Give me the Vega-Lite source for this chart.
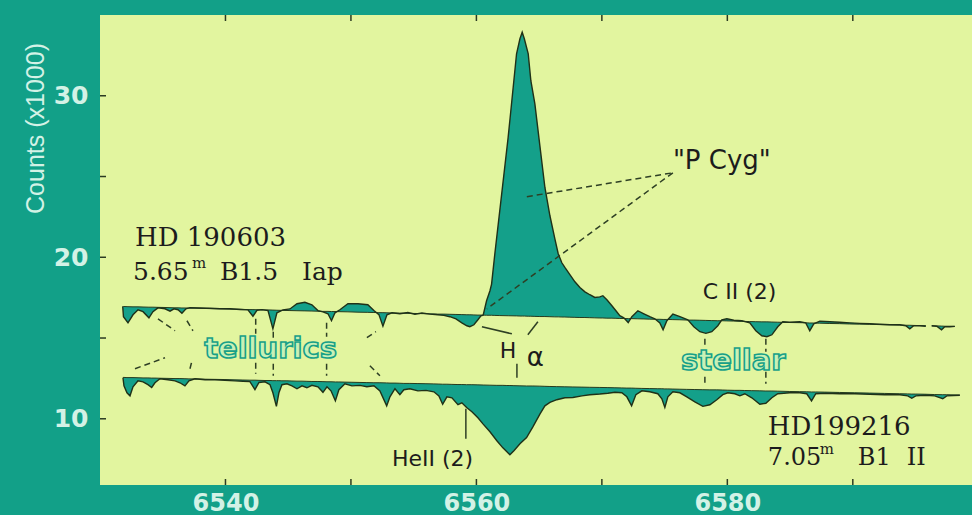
{
  "$schema": "https://vega.github.io/schema/vega-lite/v6.json",
  "width": 872,
  "height": 470,
  "autosize": {"type": "none"},
  "padding": {"left": 100, "top": 15, "right": 0, "bottom": 30},
  "background": "#12a088",
  "config": {"view": {"fill": "#e2f59f", "stroke": null}},
  "resolve": {"axis": {"x": "independent", "y": "independent"}},
  "datasets": {
    "spec": [
      {"seg":"U1","lam":6531.81,"val":16.95,"cont":16.95},
      {"seg":"U1","lam":6531.87,"val":16.32,"cont":16.95},
      {"seg":"U1","lam":6532.23,"val":15.94,"cont":16.94},
      {"seg":"U1","lam":6532.63,"val":16.44,"cont":16.93},
      {"seg":"U1","lam":6533.03,"val":16.75,"cont":16.93},
      {"seg":"U1","lam":6533.43,"val":16.63,"cont":16.92},
      {"seg":"U1","lam":6533.90,"val":16.25,"cont":16.91},
      {"seg":"U1","lam":6534.22,"val":16.63,"cont":16.91},
      {"seg":"U1","lam":6534.62,"val":16.87,"cont":16.90},
      {"seg":"U1","lam":6535.18,"val":16.81,"cont":16.89},
      {"seg":"U1","lam":6535.58,"val":16.66,"cont":16.88},
      {"seg":"U1","lam":6535.90,"val":16.81,"cont":16.87},
      {"seg":"U1","lam":6536.22,"val":16.75,"cont":16.87},
      {"seg":"U1","lam":6536.53,"val":16.53,"cont":16.86},
      {"seg":"U1","lam":6536.85,"val":16.81,"cont":16.86},
      {"seg":"U1","lam":6537.17,"val":16.88,"cont":16.85},
      {"seg":"U1","lam":6537.97,"val":16.86,"cont":16.84},
      {"seg":"U1","lam":6538.76,"val":16.84,"cont":16.82},
      {"seg":"U1","lam":6539.56,"val":16.81,"cont":16.81},
      {"seg":"U1","lam":6540.36,"val":16.81,"cont":16.79},
      {"seg":"U1","lam":6541.16,"val":16.77,"cont":16.78},
      {"seg":"U1","lam":6541.79,"val":16.74,"cont":16.76},
      {"seg":"U1","lam":6542.19,"val":16.35,"cont":16.76},
      {"seg":"U1","lam":6542.51,"val":16.72,"cont":16.75},
      {"seg":"U1","lam":6542.91,"val":16.76,"cont":16.74},
      {"seg":"U1","lam":6543.39,"val":16.70,"cont":16.74},
      {"seg":"U1","lam":6543.78,"val":15.57,"cont":16.73},
      {"seg":"U1","lam":6544.10,"val":16.56,"cont":16.72},
      {"seg":"U1","lam":6544.58,"val":16.74,"cont":16.71},
      {"seg":"U1","lam":6545.14,"val":16.80,"cont":16.70},
      {"seg":"U1","lam":6545.70,"val":17.12,"cont":16.69},
      {"seg":"U1","lam":6546.33,"val":17.21,"cont":16.68},
      {"seg":"U1","lam":6546.89,"val":17.06,"cont":16.67},
      {"seg":"U1","lam":6547.37,"val":16.70,"cont":16.66},
      {"seg":"U1","lam":6547.77,"val":16.62,"cont":16.65},
      {"seg":"U1","lam":6548.17,"val":16.50,"cont":16.65},
      {"seg":"U1","lam":6548.45,"val":16.07,"cont":16.64},
      {"seg":"U1","lam":6548.73,"val":16.56,"cont":16.64},
      {"seg":"U1","lam":6549.12,"val":16.75,"cont":16.63},
      {"seg":"U1","lam":6549.76,"val":17.12,"cont":16.62},
      {"seg":"U1","lam":6550.56,"val":17.12,"cont":16.60},
      {"seg":"U1","lam":6551.35,"val":17.06,"cont":16.59},
      {"seg":"U1","lam":6551.83,"val":16.70,"cont":16.58},
      {"seg":"U1","lam":6552.23,"val":16.45,"cont":16.57},
      {"seg":"U1","lam":6552.55,"val":15.73,"cont":16.57},
      {"seg":"U1","lam":6552.87,"val":16.44,"cont":16.56},
      {"seg":"U1","lam":6553.27,"val":16.56,"cont":16.55},
      {"seg":"U1","lam":6553.90,"val":16.50,"cont":16.54},
      {"seg":"U1","lam":6554.54,"val":16.58,"cont":16.53},
      {"seg":"U1","lam":6555.10,"val":16.47,"cont":16.52},
      {"seg":"U1","lam":6555.66,"val":16.55,"cont":16.51},
      {"seg":"U1","lam":6556.29,"val":16.48,"cont":16.50},
      {"seg":"U1","lam":6556.93,"val":16.44,"cont":16.48},
      {"seg":"U1","lam":6557.41,"val":16.40,"cont":16.48},
      {"seg":"U1","lam":6557.89,"val":16.32,"cont":16.47},
      {"seg":"U1","lam":6558.37,"val":16.19,"cont":16.46},
      {"seg":"U1","lam":6558.84,"val":15.94,"cont":16.45},
      {"seg":"U1","lam":6559.24,"val":15.76,"cont":16.44},
      {"seg":"U1","lam":6559.48,"val":15.70,"cont":16.44},
      {"seg":"U1","lam":6559.80,"val":15.82,"cont":16.43},
      {"seg":"U1","lam":6560.12,"val":16.13,"cont":16.42},
      {"seg":"U1","lam":6560.36,"val":16.38,"cont":16.42},
      {"seg":"U1","lam":6560.54,"val":16.42,"cont":16.42},
      {"seg":"U1","lam":6560.81,"val":17.31,"cont":16.41},
      {"seg":"U1","lam":6561.08,"val":17.93,"cont":16.41},
      {"seg":"U1","lam":6561.21,"val":18.34,"cont":16.41},
      {"seg":"U1","lam":6561.47,"val":20.22,"cont":16.40},
      {"seg":"U1","lam":6561.87,"val":22.93,"cont":16.39},
      {"seg":"U1","lam":6562.53,"val":27.42,"cont":16.38},
      {"seg":"U1","lam":6563.20,"val":32.60,"cont":16.37},
      {"seg":"U1","lam":6563.47,"val":33.53,"cont":16.36},
      {"seg":"U1","lam":6563.65,"val":33.93,"cont":16.36},
      {"seg":"U1","lam":6563.82,"val":33.53,"cont":16.36},
      {"seg":"U1","lam":6564.13,"val":32.60,"cont":16.35},
      {"seg":"U1","lam":6564.34,"val":30.93,"cont":16.35},
      {"seg":"U1","lam":6564.66,"val":29.50,"cont":16.34},
      {"seg":"U1","lam":6565.06,"val":26.90,"cont":16.33},
      {"seg":"U1","lam":6565.46,"val":24.32,"cont":16.33},
      {"seg":"U1","lam":6565.86,"val":22.57,"cont":16.32},
      {"seg":"U1","lam":6566.25,"val":21.15,"cont":16.31},
      {"seg":"U1","lam":6566.52,"val":20.22,"cont":16.31},
      {"seg":"U1","lam":6566.81,"val":19.66,"cont":16.30},
      {"seg":"U1","lam":6567.05,"val":19.37,"cont":16.30},
      {"seg":"U1","lam":6567.45,"val":18.92,"cont":16.29},
      {"seg":"U1","lam":6567.85,"val":18.48,"cont":16.28},
      {"seg":"U1","lam":6568.25,"val":18.13,"cont":16.27},
      {"seg":"U1","lam":6568.65,"val":17.86,"cont":16.27},
      {"seg":"U1","lam":6569.04,"val":17.68,"cont":16.26},
      {"seg":"U1","lam":6569.44,"val":17.51,"cont":16.25},
      {"seg":"U1","lam":6569.84,"val":17.55,"cont":16.24},
      {"seg":"U1","lam":6570.08,"val":17.62,"cont":16.24},
      {"seg":"U1","lam":6570.40,"val":17.37,"cont":16.23},
      {"seg":"U1","lam":6570.80,"val":17.00,"cont":16.23},
      {"seg":"U1","lam":6571.12,"val":16.69,"cont":16.22},
      {"seg":"U1","lam":6571.43,"val":16.38,"cont":16.21},
      {"seg":"U1","lam":6571.75,"val":16.25,"cont":16.21},
      {"seg":"U1","lam":6572.10,"val":15.96,"cont":16.20},
      {"seg":"U1","lam":6572.39,"val":16.32,"cont":16.20},
      {"seg":"U1","lam":6572.87,"val":16.69,"cont":16.19},
      {"seg":"U1","lam":6573.35,"val":16.50,"cont":16.18},
      {"seg":"U1","lam":6573.82,"val":16.32,"cont":16.17},
      {"seg":"U1","lam":6574.22,"val":16.19,"cont":16.16},
      {"seg":"U1","lam":6574.62,"val":15.94,"cont":16.16},
      {"seg":"U1","lam":6574.88,"val":15.51,"cont":16.15},
      {"seg":"U1","lam":6575.18,"val":16.07,"cont":16.15},
      {"seg":"U1","lam":6575.66,"val":16.48,"cont":16.14},
      {"seg":"U1","lam":6576.22,"val":16.32,"cont":16.13},
      {"seg":"U1","lam":6576.85,"val":16.13,"cont":16.11},
      {"seg":"U1","lam":6577.33,"val":15.70,"cont":16.11},
      {"seg":"U1","lam":6577.81,"val":15.39,"cont":16.10},
      {"seg":"U1","lam":6578.29,"val":15.29,"cont":16.09},
      {"seg":"U1","lam":6578.76,"val":15.39,"cont":16.08},
      {"seg":"U1","lam":6579.24,"val":15.76,"cont":16.07},
      {"seg":"U1","lam":6579.56,"val":16.13,"cont":16.07},
      {"seg":"U1","lam":6579.96,"val":16.19,"cont":16.06},
      {"seg":"U1","lam":6580.52,"val":16.10,"cont":16.05},
      {"seg":"U1","lam":6581.16,"val":16.07,"cont":16.03},
      {"seg":"U1","lam":6581.79,"val":15.94,"cont":16.02},
      {"seg":"U1","lam":6582.27,"val":15.45,"cont":16.01},
      {"seg":"U1","lam":6582.75,"val":15.14,"cont":16.00},
      {"seg":"U1","lam":6583.15,"val":15.08,"cont":16.00},
      {"seg":"U1","lam":6583.55,"val":15.20,"cont":15.99},
      {"seg":"U1","lam":6584.02,"val":15.70,"cont":15.98},
      {"seg":"U1","lam":6584.42,"val":16.01,"cont":15.97},
      {"seg":"U1","lam":6584.98,"val":15.98,"cont":15.96},
      {"seg":"U1","lam":6585.78,"val":16.01,"cont":15.95},
      {"seg":"U1","lam":6586.25,"val":15.94,"cont":15.94},
      {"seg":"U1","lam":6586.57,"val":15.45,"cont":15.93},
      {"seg":"U1","lam":6586.89,"val":15.88,"cont":15.93},
      {"seg":"U1","lam":6587.37,"val":16.04,"cont":15.92},
      {"seg":"U1","lam":6588.17,"val":16.01,"cont":15.90},
      {"seg":"U1","lam":6588.96,"val":15.98,"cont":15.89},
      {"seg":"U1","lam":6589.76,"val":15.94,"cont":15.87},
      {"seg":"U1","lam":6590.56,"val":15.91,"cont":15.86},
      {"seg":"U1","lam":6591.35,"val":15.88,"cont":15.85},
      {"seg":"U1","lam":6592.15,"val":15.85,"cont":15.83},
      {"seg":"U1","lam":6592.95,"val":15.82,"cont":15.82},
      {"seg":"U1","lam":6593.75,"val":15.82,"cont":15.80},
      {"seg":"U1","lam":6594.22,"val":15.76,"cont":15.79},
      {"seg":"U1","lam":6594.54,"val":15.57,"cont":15.79},
      {"seg":"U1","lam":6594.86,"val":15.76,"cont":15.78},
      {"seg":"U1","lam":6595.34,"val":15.76,"cont":15.77},
      {"seg":"U1","lam":6595.82,"val":15.73,"cont":15.76},
      {"seg":"U2","lam":6596.29,"val":15.76,"cont":15.75},
      {"seg":"U2","lam":6596.69,"val":15.73,"cont":15.75},
      {"seg":"U2","lam":6597.07,"val":15.51,"cont":15.74},
      {"seg":"U2","lam":6597.33,"val":15.70,"cont":15.73},
      {"seg":"U2","lam":6597.73,"val":15.70,"cont":15.73},
      {"seg":"U2","lam":6598.13,"val":15.72,"cont":15.72},
      {"seg":"L","lam":6531.83,"val":12.54,"cont":12.56},
      {"seg":"L","lam":6531.91,"val":12.04,"cont":12.56},
      {"seg":"L","lam":6532.15,"val":11.61,"cont":12.55},
      {"seg":"L","lam":6532.39,"val":11.42,"cont":12.55},
      {"seg":"L","lam":6532.63,"val":11.98,"cont":12.55},
      {"seg":"L","lam":6533.03,"val":12.35,"cont":12.54},
      {"seg":"L","lam":6533.43,"val":12.29,"cont":12.53},
      {"seg":"L","lam":6533.82,"val":12.11,"cont":12.53},
      {"seg":"L","lam":6534.12,"val":11.94,"cont":12.52},
      {"seg":"L","lam":6534.38,"val":12.23,"cont":12.52},
      {"seg":"L","lam":6534.78,"val":12.48,"cont":12.51},
      {"seg":"L","lam":6535.42,"val":12.42,"cont":12.50},
      {"seg":"L","lam":6535.98,"val":12.35,"cont":12.49},
      {"seg":"L","lam":6536.37,"val":12.23,"cont":12.49},
      {"seg":"L","lam":6536.77,"val":12.04,"cont":12.48},
      {"seg":"L","lam":6537.09,"val":12.35,"cont":12.47},
      {"seg":"L","lam":6537.57,"val":12.48,"cont":12.47},
      {"seg":"L","lam":6538.37,"val":12.42,"cont":12.45},
      {"seg":"L","lam":6539.16,"val":12.42,"cont":12.44},
      {"seg":"L","lam":6539.96,"val":12.38,"cont":12.43},
      {"seg":"L","lam":6540.76,"val":12.35,"cont":12.41},
      {"seg":"L","lam":6541.39,"val":12.32,"cont":12.40},
      {"seg":"L","lam":6541.95,"val":12.30,"cont":12.39},
      {"seg":"L","lam":6542.35,"val":11.80,"cont":12.39},
      {"seg":"L","lam":6542.67,"val":12.25,"cont":12.38},
      {"seg":"L","lam":6543.15,"val":12.29,"cont":12.37},
      {"seg":"L","lam":6543.55,"val":12.11,"cont":12.37},
      {"seg":"L","lam":6543.78,"val":11.61,"cont":12.36},
      {"seg":"L","lam":6544.06,"val":10.77,"cont":12.36},
      {"seg":"L","lam":6544.26,"val":11.61,"cont":12.36},
      {"seg":"L","lam":6544.50,"val":12.11,"cont":12.35},
      {"seg":"L","lam":6544.90,"val":12.17,"cont":12.35},
      {"seg":"L","lam":6545.30,"val":12.04,"cont":12.34},
      {"seg":"L","lam":6545.70,"val":11.86,"cont":12.33},
      {"seg":"L","lam":6546.10,"val":12.04,"cont":12.33},
      {"seg":"L","lam":6546.49,"val":11.92,"cont":12.32},
      {"seg":"L","lam":6546.89,"val":12.07,"cont":12.31},
      {"seg":"L","lam":6547.37,"val":11.98,"cont":12.31},
      {"seg":"L","lam":6547.77,"val":11.64,"cont":12.30},
      {"seg":"L","lam":6548.09,"val":11.98,"cont":12.29},
      {"seg":"L","lam":6548.41,"val":11.73,"cont":12.29},
      {"seg":"L","lam":6548.76,"val":11.11,"cont":12.28},
      {"seg":"L","lam":6549.04,"val":11.80,"cont":12.28},
      {"seg":"L","lam":6549.52,"val":12.17,"cont":12.27},
      {"seg":"L","lam":6550.08,"val":12.04,"cont":12.26},
      {"seg":"L","lam":6550.72,"val":12.07,"cont":12.25},
      {"seg":"L","lam":6551.27,"val":11.98,"cont":12.24},
      {"seg":"L","lam":6551.83,"val":12.04,"cont":12.23},
      {"seg":"L","lam":6552.31,"val":11.73,"cont":12.23},
      {"seg":"L","lam":6552.85,"val":10.80,"cont":12.22},
      {"seg":"L","lam":6553.11,"val":11.36,"cont":12.21},
      {"seg":"L","lam":6553.51,"val":11.86,"cont":12.21},
      {"seg":"L","lam":6553.90,"val":11.49,"cont":12.20},
      {"seg":"L","lam":6554.22,"val":11.80,"cont":12.19},
      {"seg":"L","lam":6554.70,"val":11.86,"cont":12.19},
      {"seg":"L","lam":6555.34,"val":11.73,"cont":12.18},
      {"seg":"L","lam":6555.98,"val":11.76,"cont":12.17},
      {"seg":"L","lam":6556.61,"val":11.67,"cont":12.16},
      {"seg":"L","lam":6557.01,"val":11.42,"cont":12.15},
      {"seg":"L","lam":6557.31,"val":10.90,"cont":12.14},
      {"seg":"L","lam":6557.65,"val":11.36,"cont":12.14},
      {"seg":"L","lam":6558.05,"val":11.30,"cont":12.13},
      {"seg":"L","lam":6558.53,"val":10.87,"cont":12.12},
      {"seg":"L","lam":6558.84,"val":10.99,"cont":12.12},
      {"seg":"L","lam":6559.22,"val":10.70,"cont":12.11},
      {"seg":"L","lam":6559.64,"val":10.43,"cont":12.11},
      {"seg":"L","lam":6560.12,"val":10.06,"cont":12.10},
      {"seg":"L","lam":6560.54,"val":9.67,"cont":12.09},
      {"seg":"L","lam":6561.08,"val":9.20,"cont":12.08},
      {"seg":"L","lam":6561.63,"val":8.64,"cont":12.07},
      {"seg":"L","lam":6562.11,"val":8.20,"cont":12.07},
      {"seg":"L","lam":6562.43,"val":7.96,"cont":12.06},
      {"seg":"L","lam":6562.67,"val":7.77,"cont":12.06},
      {"seg":"L","lam":6562.99,"val":8.02,"cont":12.05},
      {"seg":"L","lam":6563.47,"val":8.45,"cont":12.04},
      {"seg":"L","lam":6564.00,"val":8.84,"cont":12.03},
      {"seg":"L","lam":6564.50,"val":9.50,"cont":12.03},
      {"seg":"L","lam":6565.06,"val":10.29,"cont":12.02},
      {"seg":"L","lam":6565.46,"val":10.80,"cont":12.01},
      {"seg":"L","lam":6565.86,"val":11.01,"cont":12.00},
      {"seg":"L","lam":6566.41,"val":11.18,"cont":11.99},
      {"seg":"L","lam":6567.05,"val":11.30,"cont":11.98},
      {"seg":"L","lam":6567.69,"val":11.32,"cont":11.97},
      {"seg":"L","lam":6568.41,"val":11.42,"cont":11.96},
      {"seg":"L","lam":6569.04,"val":11.49,"cont":11.95},
      {"seg":"L","lam":6569.84,"val":11.53,"cont":11.94},
      {"seg":"L","lam":6570.48,"val":11.58,"cont":11.93},
      {"seg":"L","lam":6571.04,"val":11.64,"cont":11.92},
      {"seg":"L","lam":6571.59,"val":11.61,"cont":11.91},
      {"seg":"L","lam":6571.99,"val":11.36,"cont":11.90},
      {"seg":"L","lam":6572.37,"val":10.80,"cont":11.90},
      {"seg":"L","lam":6572.71,"val":11.49,"cont":11.89},
      {"seg":"L","lam":6573.19,"val":11.73,"cont":11.88},
      {"seg":"L","lam":6573.82,"val":11.67,"cont":11.87},
      {"seg":"L","lam":6574.46,"val":11.55,"cont":11.86},
      {"seg":"L","lam":6574.78,"val":11.24,"cont":11.86},
      {"seg":"L","lam":6575.02,"val":10.70,"cont":11.85},
      {"seg":"L","lam":6575.26,"val":11.36,"cont":11.85},
      {"seg":"L","lam":6575.66,"val":11.67,"cont":11.84},
      {"seg":"L","lam":6576.22,"val":11.61,"cont":11.83},
      {"seg":"L","lam":6576.77,"val":11.36,"cont":11.82},
      {"seg":"L","lam":6577.41,"val":11.05,"cont":11.81},
      {"seg":"L","lam":6578.05,"val":10.77,"cont":11.80},
      {"seg":"L","lam":6578.61,"val":10.87,"cont":11.79},
      {"seg":"L","lam":6579.16,"val":11.18,"cont":11.79},
      {"seg":"L","lam":6579.64,"val":11.49,"cont":11.78},
      {"seg":"L","lam":6580.04,"val":11.61,"cont":11.77},
      {"seg":"L","lam":6580.60,"val":11.55,"cont":11.76},
      {"seg":"L","lam":6581.00,"val":11.42,"cont":11.76},
      {"seg":"L","lam":6581.39,"val":11.55,"cont":11.75},
      {"seg":"L","lam":6581.95,"val":11.30,"cont":11.74},
      {"seg":"L","lam":6582.59,"val":10.90,"cont":11.73},
      {"seg":"L","lam":6583.07,"val":10.96,"cont":11.72},
      {"seg":"L","lam":6583.55,"val":11.30,"cont":11.72},
      {"seg":"L","lam":6584.02,"val":11.55,"cont":11.71},
      {"seg":"L","lam":6584.98,"val":11.61,"cont":11.69},
      {"seg":"L","lam":6585.78,"val":11.61,"cont":11.68},
      {"seg":"L","lam":6586.33,"val":11.55,"cont":11.67},
      {"seg":"L","lam":6586.71,"val":11.11,"cont":11.66},
      {"seg":"L","lam":6587.05,"val":11.55,"cont":11.66},
      {"seg":"L","lam":6587.77,"val":11.58,"cont":11.65},
      {"seg":"L","lam":6588.96,"val":11.55,"cont":11.63},
      {"seg":"L","lam":6590.16,"val":11.55,"cont":11.61},
      {"seg":"L","lam":6591.35,"val":11.52,"cont":11.59},
      {"seg":"L","lam":6592.55,"val":11.49,"cont":11.57},
      {"seg":"L","lam":6593.75,"val":11.49,"cont":11.55},
      {"seg":"L","lam":6594.38,"val":11.42,"cont":11.54},
      {"seg":"L","lam":6594.70,"val":11.27,"cont":11.53},
      {"seg":"L","lam":6595.02,"val":11.42,"cont":11.53},
      {"seg":"L","lam":6595.74,"val":11.46,"cont":11.52},
      {"seg":"L","lam":6596.53,"val":11.42,"cont":11.50},
      {"seg":"L","lam":6597.17,"val":11.24,"cont":11.49},
      {"seg":"L","lam":6597.49,"val":11.42,"cont":11.49},
      {"seg":"L","lam":6598.53,"val":11.46,"cont":11.47}
    ],
    "dashed": [
      {"lam":6564.02,"val":23.75,"lam2":6575.66,"val2":25.23},
      {"lam":6575.66,"val":25.23,"lam2":6560.84,"val2":16.81},
      {"lam":6534.62,"val":16.19,"lam2":6535.98,"val2":15.45},
      {"lam":6536.93,"val":16.07,"lam2":6537.41,"val2":15.45},
      {"lam":6532.79,"val":13.10,"lam2":6535.18,"val2":13.78},
      {"lam":6537.17,"val":13.10,"lam2":6537.33,"val2":13.59},
      {"lam":6542.41,"val":16.19,"lam2":6542.41,"val2":15.26},
      {"lam":6542.41,"val":13.47,"lam2":6542.41,"val2":12.79},
      {"lam":6543.81,"val":15.39,"lam2":6543.81,"val2":14.83},
      {"lam":6543.81,"val":13.41,"lam2":6543.81,"val2":12.66},
      {"lam":6548.06,"val":15.94,"lam2":6548.06,"val2":15.08},
      {"lam":6548.06,"val":13.41,"lam2":6548.06,"val2":12.66},
      {"lam":6551.27,"val":15.02,"lam2":6551.99,"val2":15.39},
      {"lam":6551.51,"val":13.28,"lam2":6552.31,"val2":12.66},
      {"lam":6578.21,"val":14.95,"lam2":6578.21,"val2":14.40},
      {"lam":6578.21,"val":12.60,"lam2":6578.21,"val2":12.04},
      {"lam":6583.07,"val":14.95,"lam2":6583.07,"val2":14.15},
      {"lam":6583.07,"val":12.91,"lam2":6583.07,"val2":12.17}
    ],
    "solid": [
      {"lam":6560.44,"val":15.70,"lam2":6562.83,"val2":15.26},
      {"lam":6564.10,"val":15.20,"lam2":6564.90,"val2":16.01},
      {"lam":6563.23,"val":13.41,"lam2":6563.23,"val2":12.54},
      {"lam":6559.16,"val":10.62,"lam2":6559.16,"val2":8.76}
    ],
    "xticks": [{"lam":6540},{"lam":6550},{"lam":6560},{"lam":6570},{"lam":6580},{"lam":6590}],
    "yticks": [{"val":10},{"val":15},{"val":20},{"val":25},{"val":30}],
    "stars": [
      {"lam":6532.79,"val":21.18,"label":"HD 190603"},
      {"lam":6583.23,"val":9.47,"label":"HD199216"}
    ],
    "mags_u": [
      {"lam":6532.63,"val":19.10,"label":"5.65"},
      {"lam":6539.56,"val":19.10,"label":"B1.5"},
      {"lam":6546.10,"val":19.10,"label":"Iap"}
    ],
    "mags_l": [
      {"lam":6583.23,"val":7.58,"label":"7.05"},
      {"lam":6590.40,"val":7.58,"label":"B1"},
      {"lam":6594.30,"val":7.58,"label":"II"}
    ],
    "sups": [
      {"lam":6537.33,"val":19.66,"label":"m"},
      {"lam":6587.37,"val":8.10,"label":"m"}
    ],
    "ions": [
      {"lam":6578.05,"val":17.83,"label":"C II (2)"},
      {"lam":6553.27,"val":7.52,"label":"HeII (2)"},
      {"lam":6561.87,"val":14.21,"label":"H"}
    ],
    "pcyg": [
      {"lam":6575.66,"val":25.98,"label":"\"P Cyg\""}
    ],
    "alpha": [
      {"lam":6564.02,"val":13.78,"label":"α"}
    ],
    "outline": [
      {"lam":6543.59,"val":14.33,"label":"tellurics"},
      {"lam":6580.48,"val":13.59,"label":"stellar"}
    ]
  },
  "layer": [
    {
      "data": {"name": "spec"},
      "mark": {"type": "area", "color": "#14a08a", "opacity": 1},
      "encoding": {
        "x": {"field": "lam", "type": "quantitative", "scale": {"domain": [6530, 6599.5], "nice": false, "zero": false},
          "axis": {"orient": "bottom", "values": [6540, 6560, 6580], "format": "d", "domain": false, "grid": false,
            "ticks": false, "labelPadding": 6,
            "labelFont": "DejaVu Sans", "labelFontWeight": "bold", "labelFontSize": 24, "labelColor": "#d3f2e6", "title": null}},
        "y": {"field": "val", "type": "quantitative", "scale": {"domain": [5.9, 35], "nice": false, "zero": false},
          "axis": {"orient": "left", "values": [10, 20, 30], "domain": false, "grid": false,
            "ticks": false, "labelPadding": 12,
            "labelFont": "DejaVu Sans", "labelFontWeight": "bold", "labelFontSize": 25, "labelColor": "#d3f2e6",
            "title": "Counts (x1000)", "titleFont": "Liberation Sans", "titleFontSize": 25, "titleFontWeight": "normal",
            "titleColor": "#d3f2e6", "titleX": -65, "titleY": 113, "titleAngle": 270, "titleAlign": "center", "titleBaseline": "middle"}},
        "y2": {"field": "cont"},
        "detail": {"field": "seg"}
      }
    },
    {
      "data": {"name": "spec"},
      "mark": {"type": "line", "color": "#263a1e", "strokeWidth": 1},
      "encoding": {
        "x": {"field": "lam", "type": "quantitative", "scale": {"domain": [6530, 6599.5], "nice": false, "zero": false}, "axis": null},
        "y": {"field": "cont", "type": "quantitative", "scale": {"domain": [5.9, 35], "nice": false, "zero": false}, "axis": null},
        "detail": {"field": "seg"}
      }
    },
    {
      "data": {"name": "spec"},
      "mark": {"type": "line", "color": "#1f3118", "strokeWidth": 1.4},
      "encoding": {
        "x": {"field": "lam", "type": "quantitative", "scale": {"domain": [6530, 6599.5], "nice": false, "zero": false}, "axis": null},
        "y": {"field": "val", "type": "quantitative", "scale": {"domain": [5.9, 35], "nice": false, "zero": false}, "axis": null},
        "detail": {"field": "seg"}
      }
    },
    {
      "data": {"name": "xticks"},
      "mark": {"type": "tick", "orient": "vertical", "size": 12, "thickness": 1.5, "color": "#2b3b22", "clip": true, "opacity": 1},
      "encoding": {
        "x": {"field": "lam", "type": "quantitative", "scale": {"domain": [6530, 6599.5], "nice": false, "zero": false}, "axis": null},
        "y": {"datum": 5.9, "type": "quantitative", "scale": {"domain": [5.9, 35], "nice": false, "zero": false}, "axis": null}
      }
    },
    {
      "data": {"name": "xticks"},
      "mark": {"type": "tick", "orient": "vertical", "size": 12, "thickness": 1.5, "color": "#2b3b22", "clip": true, "opacity": 1},
      "encoding": {
        "x": {"field": "lam", "type": "quantitative", "scale": {"domain": [6530, 6599.5], "nice": false, "zero": false}, "axis": null},
        "y": {"datum": 35, "type": "quantitative", "scale": {"domain": [5.9, 35], "nice": false, "zero": false}, "axis": null}
      }
    },
    {
      "data": {"name": "yticks"},
      "mark": {"type": "tick", "orient": "horizontal", "size": 12, "thickness": 1.5, "color": "#2b3b22", "clip": true, "opacity": 1},
      "encoding": {
        "x": {"datum": 6530, "type": "quantitative", "scale": {"domain": [6530, 6599.5], "nice": false, "zero": false}, "axis": null},
        "y": {"field": "val", "type": "quantitative", "scale": {"domain": [5.9, 35], "nice": false, "zero": false}, "axis": null}
      }
    },
    {
      "data": {"name": "dashed"},
      "mark": {"type": "rule", "color": "#2e3f24", "strokeWidth": 1.5, "strokeDash": [6, 4]},
      "encoding": {
        "x": {"field": "lam", "type": "quantitative", "scale": {"domain": [6530, 6599.5], "nice": false, "zero": false}, "axis": null},
        "y": {"field": "val", "type": "quantitative", "scale": {"domain": [5.9, 35], "nice": false, "zero": false}, "axis": null},
        "x2": {"field": "lam2"},
        "y2": {"field": "val2"}
      }
    },
    {
      "data": {"name": "solid"},
      "mark": {"type": "rule", "color": "#2e3f24", "strokeWidth": 1.5},
      "encoding": {
        "x": {"field": "lam", "type": "quantitative", "scale": {"domain": [6530, 6599.5], "nice": false, "zero": false}, "axis": null},
        "y": {"field": "val", "type": "quantitative", "scale": {"domain": [5.9, 35], "nice": false, "zero": false}, "axis": null},
        "x2": {"field": "lam2"},
        "y2": {"field": "val2"}
      }
    },
    {
      "data": {"name": "stars"},
      "mark": {"type": "text", "font": "DejaVu Serif", "fontSize": 26, "color": "#1c1c1c", "align": "left", "baseline": "middle"},
      "encoding": {
        "x": {"field": "lam", "type": "quantitative", "scale": {"domain": [6530, 6599.5], "nice": false, "zero": false}, "axis": null},
        "y": {"field": "val", "type": "quantitative", "scale": {"domain": [5.9, 35], "nice": false, "zero": false}, "axis": null},
        "text": {"field": "label"}
      }
    },
    {
      "data": {"name": "mags_u"},
      "mark": {"type": "text", "font": "DejaVu Serif", "fontSize": 25, "color": "#1c1c1c", "align": "left", "baseline": "middle"},
      "encoding": {
        "x": {"field": "lam", "type": "quantitative", "scale": {"domain": [6530, 6599.5], "nice": false, "zero": false}, "axis": null},
        "y": {"field": "val", "type": "quantitative", "scale": {"domain": [5.9, 35], "nice": false, "zero": false}, "axis": null},
        "text": {"field": "label"}
      }
    },
    {
      "data": {"name": "mags_l"},
      "mark": {"type": "text", "font": "DejaVu Serif", "fontSize": 24, "color": "#1c1c1c", "align": "left", "baseline": "middle"},
      "encoding": {
        "x": {"field": "lam", "type": "quantitative", "scale": {"domain": [6530, 6599.5], "nice": false, "zero": false}, "axis": null},
        "y": {"field": "val", "type": "quantitative", "scale": {"domain": [5.9, 35], "nice": false, "zero": false}, "axis": null},
        "text": {"field": "label"}
      }
    },
    {
      "data": {"name": "sups"},
      "mark": {"type": "text", "font": "DejaVu Serif", "fontSize": 15, "color": "#1c1c1c", "align": "left", "baseline": "middle"},
      "encoding": {
        "x": {"field": "lam", "type": "quantitative", "scale": {"domain": [6530, 6599.5], "nice": false, "zero": false}, "axis": null},
        "y": {"field": "val", "type": "quantitative", "scale": {"domain": [5.9, 35], "nice": false, "zero": false}, "axis": null},
        "text": {"field": "label"}
      }
    },
    {
      "data": {"name": "ions"},
      "mark": {"type": "text", "font": "DejaVu Sans", "fontSize": 22, "color": "#1c1c1c", "align": "left", "baseline": "middle"},
      "encoding": {
        "x": {"field": "lam", "type": "quantitative", "scale": {"domain": [6530, 6599.5], "nice": false, "zero": false}, "axis": null},
        "y": {"field": "val", "type": "quantitative", "scale": {"domain": [5.9, 35], "nice": false, "zero": false}, "axis": null},
        "text": {"field": "label"}
      }
    },
    {
      "data": {"name": "pcyg"},
      "mark": {"type": "text", "font": "DejaVu Sans", "fontSize": 26, "color": "#1c1c1c", "align": "left", "baseline": "middle"},
      "encoding": {
        "x": {"field": "lam", "type": "quantitative", "scale": {"domain": [6530, 6599.5], "nice": false, "zero": false}, "axis": null},
        "y": {"field": "val", "type": "quantitative", "scale": {"domain": [5.9, 35], "nice": false, "zero": false}, "axis": null},
        "text": {"field": "label"}
      }
    },
    {
      "data": {"name": "alpha"},
      "mark": {"type": "text", "font": "DejaVu Sans", "fontSize": 26, "color": "#1c1c1c", "align": "left", "baseline": "middle"},
      "encoding": {
        "x": {"field": "lam", "type": "quantitative", "scale": {"domain": [6530, 6599.5], "nice": false, "zero": false}, "axis": null},
        "y": {"field": "val", "type": "quantitative", "scale": {"domain": [5.9, 35], "nice": false, "zero": false}, "axis": null},
        "text": {"field": "label"}
      }
    },
    {
      "data": {"name": "outline"},
      "mark": {"type": "text", "font": "DejaVu Sans", "fontWeight": "bold", "fontSize": 29, "fill": "#c8f1b6", "stroke": "#17a088", "strokeWidth": 1.6, "align": "center", "baseline": "middle"},
      "encoding": {
        "x": {"field": "lam", "type": "quantitative", "scale": {"domain": [6530, 6599.5], "nice": false, "zero": false}, "axis": null},
        "y": {"field": "val", "type": "quantitative", "scale": {"domain": [5.9, 35], "nice": false, "zero": false}, "axis": null},
        "text": {"field": "label"}
      }
    }
  ]
}
